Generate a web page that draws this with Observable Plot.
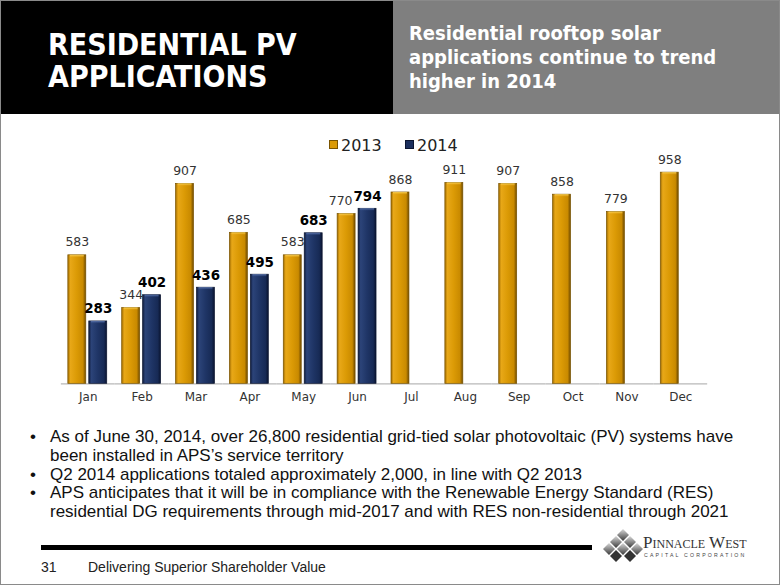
<!DOCTYPE html>
<html>
<head>
<meta charset="utf-8">
<script src="https://cdn.jsdelivr.net/npm/d3@7"></script>
<script src="https://cdn.jsdelivr.net/npm/@observablehq/plot@0.6"></script>
<style>
  html, body { margin: 0; padding: 0; background: #fff; }
  #slide { position: relative; width: 780px; height: 585px; overflow: hidden; background: #fff; box-sizing: border-box; border: 1px solid #8a8a8a; }
  #hdrL { position: absolute; left: 0; top: 0; width: 392px; height: 113px; background: #000; }
  #hdrR { position: absolute; left: 392px; top: 0; width: 388px; height: 113px; background: #7f7f7f; }
  #title { position: absolute; left: 47px; top: 28px; color: #fff; font-family: "DejaVu Sans Condensed", "DejaVu Sans", sans-serif; font-weight: bold; font-size: 30px; line-height: 32px; }
  #subtitle { position: absolute; left: 408px; top: 20px; color: #fff; font-family: "DejaVu Sans Condensed", "DejaVu Sans", sans-serif; font-weight: bold; font-size: 20px; line-height: 24px; }
  #chart { position: absolute; left: 0; top: 120px; }
  #legend { position: absolute; top: 135px; left: 0; width: 780px; height: 22px; font-family: "DejaVu Sans", sans-serif; font-size: 16px; color: #222; }
  .li { position: absolute; top: 0; line-height: 20px; }
  .sw { display: inline-block; width: 7px; height: 7px; margin-right: 3px; vertical-align: 2px; }
  #bullets { position: absolute; left: 29px; top: 427px; width: 730px; margin: 0; padding: 0; list-style: none; font-family: "Liberation Sans", Arial, sans-serif; font-size: 17px; line-height: 18.8px; color: #111; }
  #bullets li { position: relative; padding-left: 20px; }
  #bullets li::before { content: "\2022"; position: absolute; left: 0; top: 0; }
  #rule { position: absolute; left: 40px; top: 544px; width: 551px; height: 5px; background: #000; }
  #pg { position: absolute; left: 40px; top: 558px; font-family: "Liberation Sans Narrow", "Liberation Sans", Arial, sans-serif; font-size: 14px; color: #222; }
  #tag { position: absolute; left: 87px; top: 558px; font-family: "Liberation Sans Narrow", "Liberation Sans", Arial, sans-serif; font-size: 14px; color: #222; }
  #logo { position: absolute; left: 600px; top: 524px; }
</style>
</head>
<body>
<div id="slide">
  <div id="hdrL"></div>
  <div id="hdrR"></div>
  <div id="title">RESIDENTIAL PV<br>APPLICATIONS</div>
  <div id="subtitle">Residential rooftop solar<br>applications continue to trend<br>higher in 2014</div>
  <div id="chart"></div>
  <div id="legend"></div>
  <ul id="bullets">
    <li>As of June 30, 2014, over 26,800 residential grid-tied solar photovoltaic (PV) systems have<br>been installed in APS’s service territory</li>
    <li>Q2 2014 applications totaled approximately 2,000, in line with Q2 2013</li>
    <li>APS anticipates that it will be in compliance with the Renewable Energy Standard (RES)<br>residential DG requirements through mid-2017 and with RES non-residential through 2021</li>
  </ul>
  <div id="rule"></div>
  <div id="pg">31</div>
  <div id="tag">Delivering Superior Shareholder Value</div>
  <svg id="logo" width="178" height="45" viewBox="0 0 178 45">
    <defs>
      <linearGradient id="dg" x1="0" y1="0" x2="0" y2="1">
        <stop offset="0" stop-color="#d8d8d8"/>
        <stop offset="1" stop-color="#3a3a3a"/>
      </linearGradient>
    </defs>
    <g fill="url(#dg)">
      <path d="M22 4 l6 6 l-6 6 l-6 -6z"/>
      <path d="M15 11 l6 6 l-6 6 l-6 -6z"/>
      <path d="M29 11 l6 6 l-6 6 l-6 -6z"/>
      <path d="M8 18 l6 6 l-6 6 l-6 -6z"/>
      <path d="M22 18 l6 6 l-6 6 l-6 -6z"/>
      <path d="M36 18 l6 6 l-6 6 l-6 -6z"/>
    </g>
    <g fill="#333">
      <path d="M15 25 l6 6 l-6 6 l-6 -6z"/>
      <path d="M29 25 l6 6 l-6 6 l-6 -6z"/>
    </g>
    <text x="42" y="23" font-family="Liberation Serif, serif" font-size="17" fill="#333">P<tspan font-size="12">INNACLE</tspan> W<tspan font-size="12">EST</tspan></text>
    <text x="43" y="32" font-family="Liberation Sans, sans-serif" font-size="5.2" letter-spacing="2.2" fill="#444">CAPITAL CORPORATION</text>
  </svg>
</div>
<script>
const months = ["Jan","Feb","Mar","Apr","May","Jun","Jul","Aug","Sep","Oct","Nov","Dec"];
const years = ["2013","2014"];
const values2013 = [583,344,907,685,583,770,868,911,907,858,779,958];
const values2014 = [283,402,436,495,683,794];
const legendColors = ["#DB9A05","#1B2F5E"];

const rows = [
  ...values2013.map((v, i) => ({month: months[i], year: "2013", value: v})),
  ...values2014.map((v, i) => ({month: months[i], year: "2014", value: v}))
];
const r13 = rows.filter(d => d.year === "2013");
const r14 = rows.filter(d => d.year === "2014");
// where both years' labels would collide (Jun), the 2013 label is nudged left
const r13Crowded = r13.filter(d => r14.some(e => e.month === d.month && Math.abs(e.value - d.value) < 40));
const r13Free = r13.filter(d => !r13Crowded.includes(d));

const plot = Plot.plot({
  width: 780,
  height: 290,
  marginLeft: 60,
  marginRight: 72,
  marginTop: 42,
  marginBottom: 27,
  style: {fontFamily: "DejaVu Sans, sans-serif", background: "transparent"},
  fx: {domain: months, paddingInner: 0.26, paddingOuter: 0.13, label: null},
  x: {domain: years, axis: null, paddingInner: 0.13, paddingOuter: 0},
  y: {domain: [0, 1000], axis: null},
  marks: [
    Plot.axisFx({anchor: "bottom", tickSize: 0, tickPadding: 9, fontSize: 12, fill: "#333", label: null}),
    Plot.ruleY([0], {stroke: "#b8b8b8", strokeWidth: 1.2, insetLeft: -7, insetRight: -7}),
    Plot.barY(r13, {fx: "month", x: "year", y: "value", fill: "url(#g2013)", stroke: "#7a5400", strokeWidth: 0.7}),
    Plot.barY(r14, {fx: "month", x: "year", y: "value", fill: "url(#g2014)", stroke: "#0c1631", strokeWidth: 0.7}),
    Plot.barY(r13, {fx: "month", x: "year", y: "value", y1: d => d.value - 10, fill: "url(#t2013)", insetLeft: 2, insetRight: 2}),
    Plot.barY(r14, {fx: "month", x: "year", y: "value", y1: d => d.value - 10, fill: "url(#t2014)", insetLeft: 2, insetRight: 2}),
    Plot.text(r13Free, {fx: "month", x: "year", y: "value", text: d => String(d.value), dy: -9, lineAnchor: "bottom", fill: "#333", fontSize: 12.5}),
    Plot.text(r13Crowded, {fx: "month", x: "year", y: "value", text: d => String(d.value), dy: -9, dx: -6, lineAnchor: "bottom", fill: "#333", fontSize: 12.5}),
    Plot.text(r14, {fx: "month", x: "year", y: "value", text: d => String(d.value), dy: -8, lineAnchor: "bottom", fill: "#000", fontWeight: "bold", fontSize: 13.5})
  ]
});

// gradient definitions for the bevelled bars
const defs = d3.select(plot).insert("defs", ":first-child");
function hGrad(id, stops) {
  const g = defs.append("linearGradient").attr("id", id).attr("x1", 0).attr("x2", 1).attr("y1", 0).attr("y2", 0);
  stops.forEach(([o, c]) => g.append("stop").attr("offset", o).attr("stop-color", c));
}
function vGrad(id, stops) {
  const g = defs.append("linearGradient").attr("id", id).attr("x1", 0).attr("x2", 0).attr("y1", 0).attr("y2", 1);
  stops.forEach(([o, c, a]) => g.append("stop").attr("offset", o).attr("stop-color", c).attr("stop-opacity", a));
}
hGrad("g2013", [[0, "#a06c00"], [0.14, "#e8a818"], [0.5, "#db9a05"], [0.84, "#c98a00"], [1, "#6e4a00"]]);
hGrad("g2014", [[0, "#0e1a3a"], [0.14, "#2c4479"], [0.5, "#1f3566"], [0.84, "#172a55"], [1, "#0a1430"]]);
vGrad("t2013", [[0, "#ffd860", 0.95], [1, "#f0b830", 0.2]]);
vGrad("t2014", [[0, "#6b86c0", 0.9], [1, "#3a5590", 0.2]]);

document.getElementById("chart").appendChild(plot);

// legend
const lg = document.getElementById("legend");
const legendLeft = [328, 404];
years.forEach((y, i) => {
  const item = document.createElement("div");
  item.className = "li";
  item.style.left = legendLeft[i] + "px";
  item.innerHTML = `<span class="sw" style="background:${legendColors[i]};border:1px solid ${i ? '#0c1631' : '#7a5400'}"></span>${y}`;
  lg.appendChild(item);
});
</script>
</body>
</html>
